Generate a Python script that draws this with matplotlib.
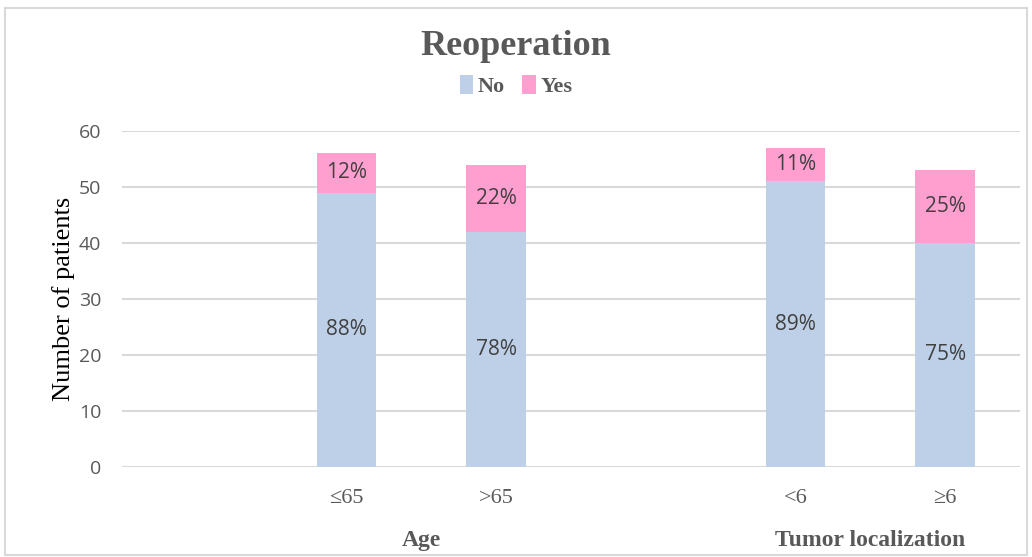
import matplotlib.pyplot as plt
from matplotlib.patches import Rectangle

categories = ["", "\u226465", ">65", "", "<6", "\u22656"]
no_counts = [0, 49, 42, 0, 51, 40]
yes_counts = [0, 7, 12, 0, 6, 13]
no_labels = ["", "88%", "78%", "", "89%", "75%"]
yes_labels = ["", "12%", "22%", "", "11%", "25%"]
groups = ["Age", "Tumor localization"]
group_centers = [1.5, 4.5]

blue = "#bdd0e8"
pink = "#ff9fcf"
gray = "#595959"

fig = plt.figure(figsize=(10.32, 5.57), dpi=100)
fig.patches.append(Rectangle((0.005, 0.003), 0.99, 0.982, transform=fig.transFigure,
                             fill=False, edgecolor="#d9d9d9", linewidth=1.5))
ax = fig.add_axes([122 / 1032, 1 - 467 / 557, 898 / 1032, 336 / 557])

x = list(range(len(categories)))
ax.bar(x, no_counts, width=0.4, color=blue, label="No", zorder=3)
ax.bar(x, yes_counts, width=0.4, bottom=no_counts, color=pink, label="Yes", zorder=3)

for i in x:
    if no_labels[i]:
        ax.text(i, no_counts[i] / 2, no_labels[i], ha="center", va="center",
                fontsize=15, color="#404040", family="Open Sans")
        ax.text(i, no_counts[i] + yes_counts[i] / 2, yes_labels[i], ha="center",
                va="center", fontsize=15, color="#404040", family="Open Sans")

ax.set_xlim(-0.5, 5.5)
ax.set_ylim(0, 60)
ax.set_yticks(range(0, 61, 10))
ax.yaxis.grid(True, color="#d9d9d9", linewidth=1.5, zorder=0)
ax.set_axisbelow(True)
for s in ax.spines.values():
    s.set_visible(False)
ax.tick_params(axis="y", length=0, pad=15, labelsize=14, labelcolor=gray)
for lab in ax.get_yticklabels():
    lab.set_family("Open Sans")
ax.set_xticks(x)
ax.set_xticklabels(categories, family="Liberation Serif", fontsize=16, color=gray)
ax.tick_params(axis="x", length=0, pad=16)

for c, g in zip(group_centers, groups):
    ax.text(c, -0.22, g, transform=ax.get_xaxis_transform(), ha="center", va="center",
            family="Liberation Serif", fontweight="bold", fontsize=17, color=gray)

ax.set_ylabel("Number of patients", family="Liberation Serif", fontsize=19, color="black")
ax.yaxis.set_label_coords(-0.052, 0.5)

fig.text(0.5, 0.917, "Reoperation", ha="center", va="center", family="Liberation Serif",
         fontweight="bold", fontsize=26, color=gray)
fig.legend(loc="center", bbox_to_anchor=(0.5, 0.845), ncol=2, frameon=False,
           prop={"family": "Liberation Serif", "weight": "bold", "size": 16},
           labelcolor=gray, handlelength=0.6, handleheight=0.9, handletextpad=0.2,
           columnspacing=0.8)

fig.savefig("out.png", dpi=100)
